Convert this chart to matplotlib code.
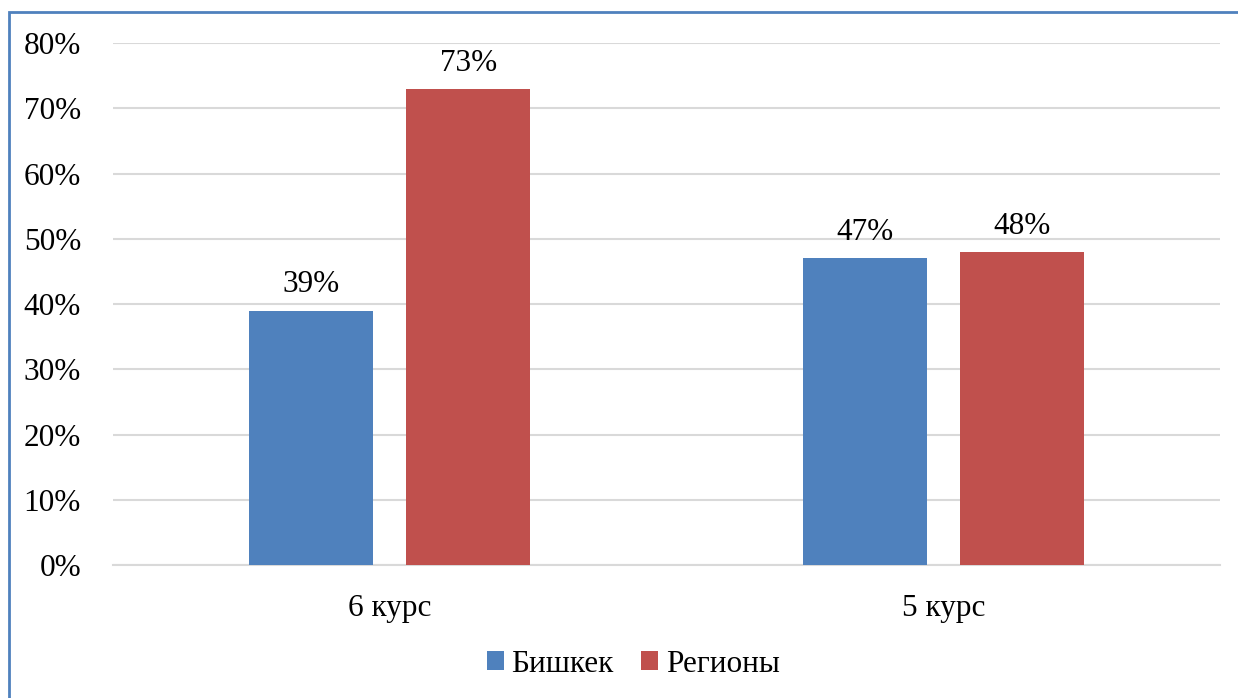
import matplotlib.pyplot as plt
import matplotlib.ticker as tik
import numpy as np
from matplotlib.patches import Rectangle

plt.rcParams['font.family'] = ['Liberation Serif', 'DejaVu Serif']

# данные
categories = ['6 курс', '5 курс']
bishkek = [0.39, 0.47]
regions = [0.73, 0.48]
series_names = ['Бишкек', 'Регионы']

blue = '#4F81BD'
red = '#C0504D'
fs = 22.5

fig = plt.figure(figsize=(12.38, 6.98), dpi=100)
ax = fig.add_axes([0.0913, 0.1905, 0.8942, 0.7479])

x = np.arange(len(categories))
w = 0.224
off = 0.142
b1 = ax.bar(x - off, bishkek, w, color=blue, label=series_names[0], zorder=3)
b2 = ax.bar(x + off, regions, w, color=red, label=series_names[1], zorder=3)

# подписи значений
for bars, vals in ((b1, bishkek), (b2, regions)):
    for r, v in zip(bars, vals):
        ax.annotate(f'{v:.0%}', (r.get_x() + r.get_width() / 2, v),
                    xytext=(0, 8), textcoords='offset points',
                    ha='center', va='bottom', fontsize=fs)

ax.set_xlim(-0.5, 1.5)
ax.set_ylim(0, 0.8)
ax.yaxis.set_major_locator(tik.MultipleLocator(0.1))
ax.yaxis.set_major_formatter(tik.PercentFormatter(1.0, decimals=0))
ax.set_xticks(x)
ax.set_xticklabels(categories)
ax.tick_params(axis='y', length=0, pad=23, labelsize=fs)
ax.tick_params(axis='x', length=0, pad=21, labelsize=fs)

ax.grid(axis='y', color='#D9D9D9', linewidth=1.5, zorder=0)
for s in ['top', 'right', 'left']:
    ax.spines[s].set_visible(False)
ax.spines['bottom'].set_color('#D9D9D9')
ax.spines['bottom'].set_linewidth(1.5)

# легенда снизу
ax.legend(loc='center', bbox_to_anchor=(633 / 1238, 1 - 664 / 698), bbox_transform=fig.transFigure,
          ncol=2, frameon=False, fontsize=fs, handlelength=0.55, handleheight=0.55,
          handletextpad=0.23, columnspacing=0.9)

# рамка диаграммы
fig.patches.append(Rectangle((9 / 1238, -0.1), 1.2, 0.1 + 1 - 12 / 698,
                             transform=fig.transFigure, fill=False,
                             edgecolor=blue, linewidth=2))

fig.savefig('out.png', dpi=100)
